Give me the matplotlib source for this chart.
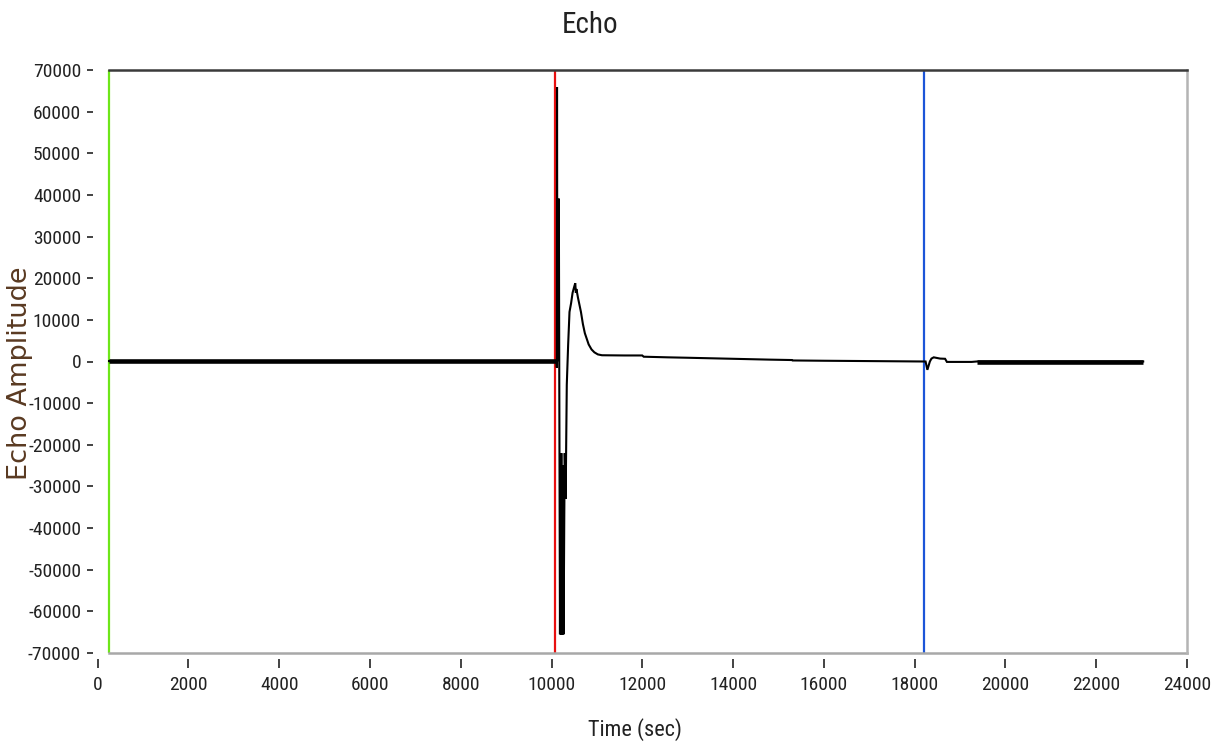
import matplotlib
matplotlib.use("Agg")
import matplotlib.pyplot as plt
import numpy as np

# -------------------------
# DADOS
# -------------------------

tempo = [250, 10110, 10115, 10120, 10128, 10135, 10160, 10170, 10185, 10195,
         10205, 10215, 10225, 10235, 10245, 10255, 10265, 10280, 10290, 10310,
         10335, 10365, 10395, 10430, 10463, 10500, 10522, 10535, 10547, 10582,
         10647, 10690, 10733, 10817, 10880, 10943, 11020, 11110, 11600, 11997,
         12030, 12560, 13000, 14000, 14800, 15300, 15310, 16000, 17000, 18210,
         18240, 18280, 18335, 18370, 18420, 18560, 18670, 18710, 19255, 19365,
         23035]
amplitude = [100, 100, -1500, 65900, 2000, 100, 39100, -5000, -65500, -30000,
             -65500, -22000, -65500, -38000, -65500, -25000, -65500, -36900, -22000, -33000,
             -5600, 4000, 11900, 14000, 16500, 18000, 18800, 16500, 17400, 15300,
             11900, 9000, 6800, 4100, 2900, 2200, 1700, 1500, 1450, 1450,
             1150, 1000, 900, 650, 450, 350, 250, 180, 100, 0,
             0, -2000, 0, 700, 1000, 700, 650, -100, -100, 0,
             0]

# zonas onde o ruido de fundo deixa a linha mais grossa
ruido_inicio = [250, 19365]
ruido_fim = [10110, 23035]
ruido_nivel = [100, 0]

# cursores
cursor_x = [250, 10075, 18210]
cursor_cor = ["#6ee619", "#e81010", "#1c55d8"]

x_ticks = list(range(0, 24001, 2000))
y_ticks = list(range(-70000, 70001, 10000))

# -------------------------
# GRAFICO
# -------------------------

plt.rcParams["axes.unicode_minus"] = False
fonte = ["Roboto Condensed", "Liberation Sans Narrow", "Roboto", "DejaVu Sans"]

W, H = 1220, 746
fig = plt.figure(figsize=(W / 100, H / 100), dpi=100)
esq, dir_, topo, base = 97.7, 1187, 70, 653
ax = fig.add_axes([esq / W, 1 - base / H, (dir_ - esq) / W, (base - topo) / H])

ax.set_xlim(0, 24000)
ax.set_ylim(-70000, 70000)

for i in range(len(cursor_x)):
    ax.axvline(cursor_x[i], color=cursor_cor[i], lw=1.6, zorder=2)

ax.plot(tempo, amplitude, color="black", lw=1.5, zorder=3, solid_joinstyle="miter")
for i in range(len(ruido_inicio)):
    ax.plot([ruido_inicio[i], ruido_fim[i]], [ruido_nivel[i], ruido_nivel[i]],
            color="black", lw=3.3, zorder=3, solid_capstyle="butt")

# moldura
ax.spines["left"].set_position(("outward", 3.5))
ax.spines["left"].set_color("none")
ax.spines["bottom"].set_position(("outward", 4))
ax.spines["bottom"].set_color("none")
ax.spines["top"].set_bounds(250, 24000)
ax.spines["top"].set_color("#3a3a3a")
ax.spines["top"].set_linewidth(1.8)
ax.spines["right"].set_color("#b4b4b4")
ax.spines["right"].set_linewidth(1.8)
ax.axhline(-70000, xmin=250 / 24000, xmax=1, color="#a8a8a8", lw=1.8, clip_on=False)

ax.set_xticks(x_ticks)
ax.set_yticks(y_ticks)
ax.tick_params(axis="x", direction="out", length=6.5, width=1.2, pad=6, colors="#222222")
ax.tick_params(axis="y", direction="out", length=4.5, width=1.2, pad=4, colors="#222222")
for lab in ax.get_xticklabels() + ax.get_yticklabels():
    lab.set_family(fonte)
    lab.set_fontsize(14)

ax.set_xlabel("Time (sec)", family=fonte, fontsize=16, color="#222222")
ax.xaxis.set_label_coords((635 - esq) / (dir_ - esq), -(730 - base) / (base - topo), transform=ax.transAxes)
ax.xaxis.label.set_va("center")
ax.set_ylabel("Echo Amplitude", family="DejaVu Sans", fontsize=19.5, color="#5a3a22")
ax.yaxis.set_label_coords(-(esq - 20) / (dir_ - esq), (base - 373) / (base - topo))
ax.yaxis.label.set_va("center")

fig.text(590 / W, 1 - 25 / H, "Echo", family=fonte, fontsize=21, color="#222222",
         ha="center", va="center")

fig.savefig("out.png", dpi=100, facecolor="white")
